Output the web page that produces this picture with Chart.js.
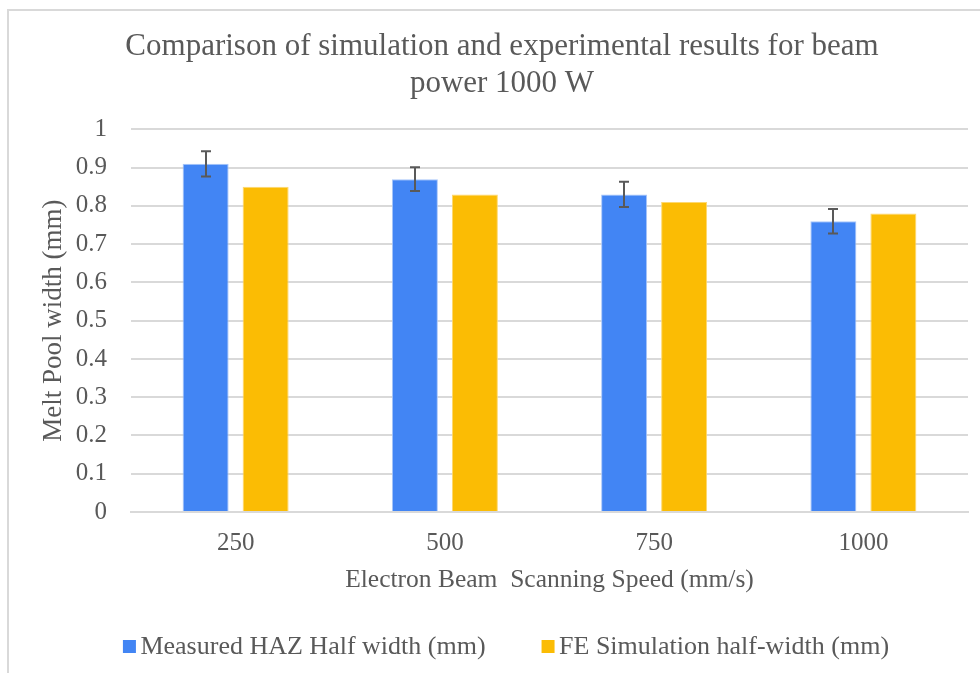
<!DOCTYPE html>
<html>
<head>
<meta charset="utf-8">
<script src="https://cdn.jsdelivr.net/npm/chart.js@4"></script>
<style>
  html, body { margin: 0; padding: 0; background: #fff; }
  #wrap { position: absolute; left: 0; top: 0; width: 980px; height: 673px; }
</style>
</head>
<body>
<div id="wrap"><canvas id="c" width="980" height="673"></canvas></div>
<script>
// Scanning speeds (mm/s)
const speeds = ['250', '500', '750', '1000'];
// Measured HAZ half width (mm) and its error
const measured = [0.91, 0.87, 0.83, 0.76];
const measuredErr = [0.033, 0.031, 0.033, 0.032];
// FE simulation half width (mm)
const simulated = [0.85, 0.83, 0.81, 0.78];

const textColor = '#595959';
const serif = "'Liberation Serif', 'Times New Roman', serif";

// Outer frame of the chart
const framePlugin = {
  id: 'frame',
  beforeDraw(chart) {
    const ctx = chart.ctx;
    ctx.save();
    ctx.fillStyle = '#fff';
    ctx.fillRect(0, 0, chart.width, chart.height);
    ctx.strokeStyle = '#d9d9d9';
    ctx.lineWidth = 2;
    ctx.strokeRect(8, 10, chart.width + 20, chart.height + 20);
    ctx.restore();
  }
};

// Error bars on the measured series
const errorBarPlugin = {
  id: 'errorBars',
  afterDatasetsDraw(chart) {
    const ctx = chart.ctx;
    const meta = chart.getDatasetMeta(0);
    const y = chart.scales.y;
    ctx.save();
    ctx.strokeStyle = '#595959';
    ctx.lineWidth = 2;
    meta.data.forEach((bar, i) => {
      const v = measured[i], e = measuredErr[i];
      const yTop = y.getPixelForValue(v + e);
      const yBot = y.getPixelForValue(v - e);
      const x = Math.round(bar.x);
      const cap = 5;
      ctx.beginPath();
      ctx.moveTo(x, yTop); ctx.lineTo(x, yBot);
      ctx.moveTo(x - cap, yTop); ctx.lineTo(x + cap, yTop);
      ctx.moveTo(x - cap, yBot); ctx.lineTo(x + cap, yBot);
      ctx.stroke();
    });
    ctx.restore();
  }
};

// Legend row under the axis title: small square swatch + label per dataset
const legendRowPlugin = {
  id: 'legendRow',
  afterDraw(chart) {
    const ctx = chart.ctx;
    const box = 13, textGap = 4.5, itemGap = 56;
    const centerX = 506, centerY = 646.5;
    ctx.save();
    ctx.font = '26px ' + serif;
    ctx.textBaseline = 'middle';
    const items = chart.data.datasets.map(ds => ({
      label: ds.label, color: ds.backgroundColor, w: ctx.measureText(ds.label).width
    }));
    let total = 0;
    items.forEach((it, i) => { total += box + textGap + it.w + (i ? itemGap : 0); });
    let x = centerX - total / 2;
    items.forEach((it, i) => {
      if (i) x += itemGap;
      ctx.fillStyle = it.color;
      ctx.fillRect(x, centerY - box / 2, box, box);
      x += box + textGap;
      ctx.fillStyle = textColor;
      ctx.fillText(it.label, x, centerY + 1);
      x += it.w;
    });
    ctx.restore();
  }
};

new Chart(document.getElementById('c'), {
  type: 'bar',
  data: {
    labels: speeds,
    datasets: [
      {
        label: 'Measured HAZ Half width (mm)',
        data: measured,
        backgroundColor: '#4285f4',
        borderColor: '#a9c6f9',
        borderWidth: 1
      },
      {
        label: 'FE Simulation half-width (mm)',
        data: simulated,
        backgroundColor: '#fbbc04',
        borderColor: '#fdd870',
        borderWidth: 1
      }
    ]
  },
  options: {
    responsive: false,
    animation: false,
    devicePixelRatio: 1,
    datasets: {
      bar: { barPercentage: 0.767, categoryPercentage: 0.5735 }
    },
    layout: { padding: { left: 36, right: 12, top: 10, bottom: 60 } },
    plugins: {
      title: {
        display: true,
        text: ['Comparison of simulation and experimental results for beam', 'power 1000 W'],
        color: textColor,
        font: { family: serif, size: 31, weight: 'normal', lineHeight: 1.2 },
        padding: { top: 18, bottom: 27 }
      },
      legend: { display: false },
      tooltip: { enabled: false }
    },
    scales: {
      x: {
        afterFit(scale) { scale.height = 101; },
        grid: { display: false, drawTicks: false },
        border: { display: true, color: '#d9d9d9', width: 2 },
        ticks: { color: textColor, font: { family: serif, size: 25 }, padding: 16 },
        title: {
          display: true,
          text: 'Electron Beam  Scanning Speed (mm/s)',
          color: textColor,
          font: { family: serif, size: 25.5 },
          padding: { top: 4, bottom: 17 }
        }
      },
      y: {
        afterFit(scale) { scale.width = 95; },
        min: 0,
        max: 1,
        ticks: {
          stepSize: 0.1,
          color: textColor,
          font: { family: serif, size: 25 },
          padding: 24,
          callback: (v) => Math.round(v * 10) / 10
        },
        grid: { color: '#d9d9d9', lineWidth: 2, drawTicks: false },
        border: { display: false },
        title: {
          display: true,
          text: 'Melt Pool width (mm)',
          color: textColor,
          font: { family: serif, size: 27 },
          padding: { top: 2, bottom: 0 }
        }
      }
    }
  },
  plugins: [framePlugin, errorBarPlugin, legendRowPlugin]
});
</script>
</body>
</html>
